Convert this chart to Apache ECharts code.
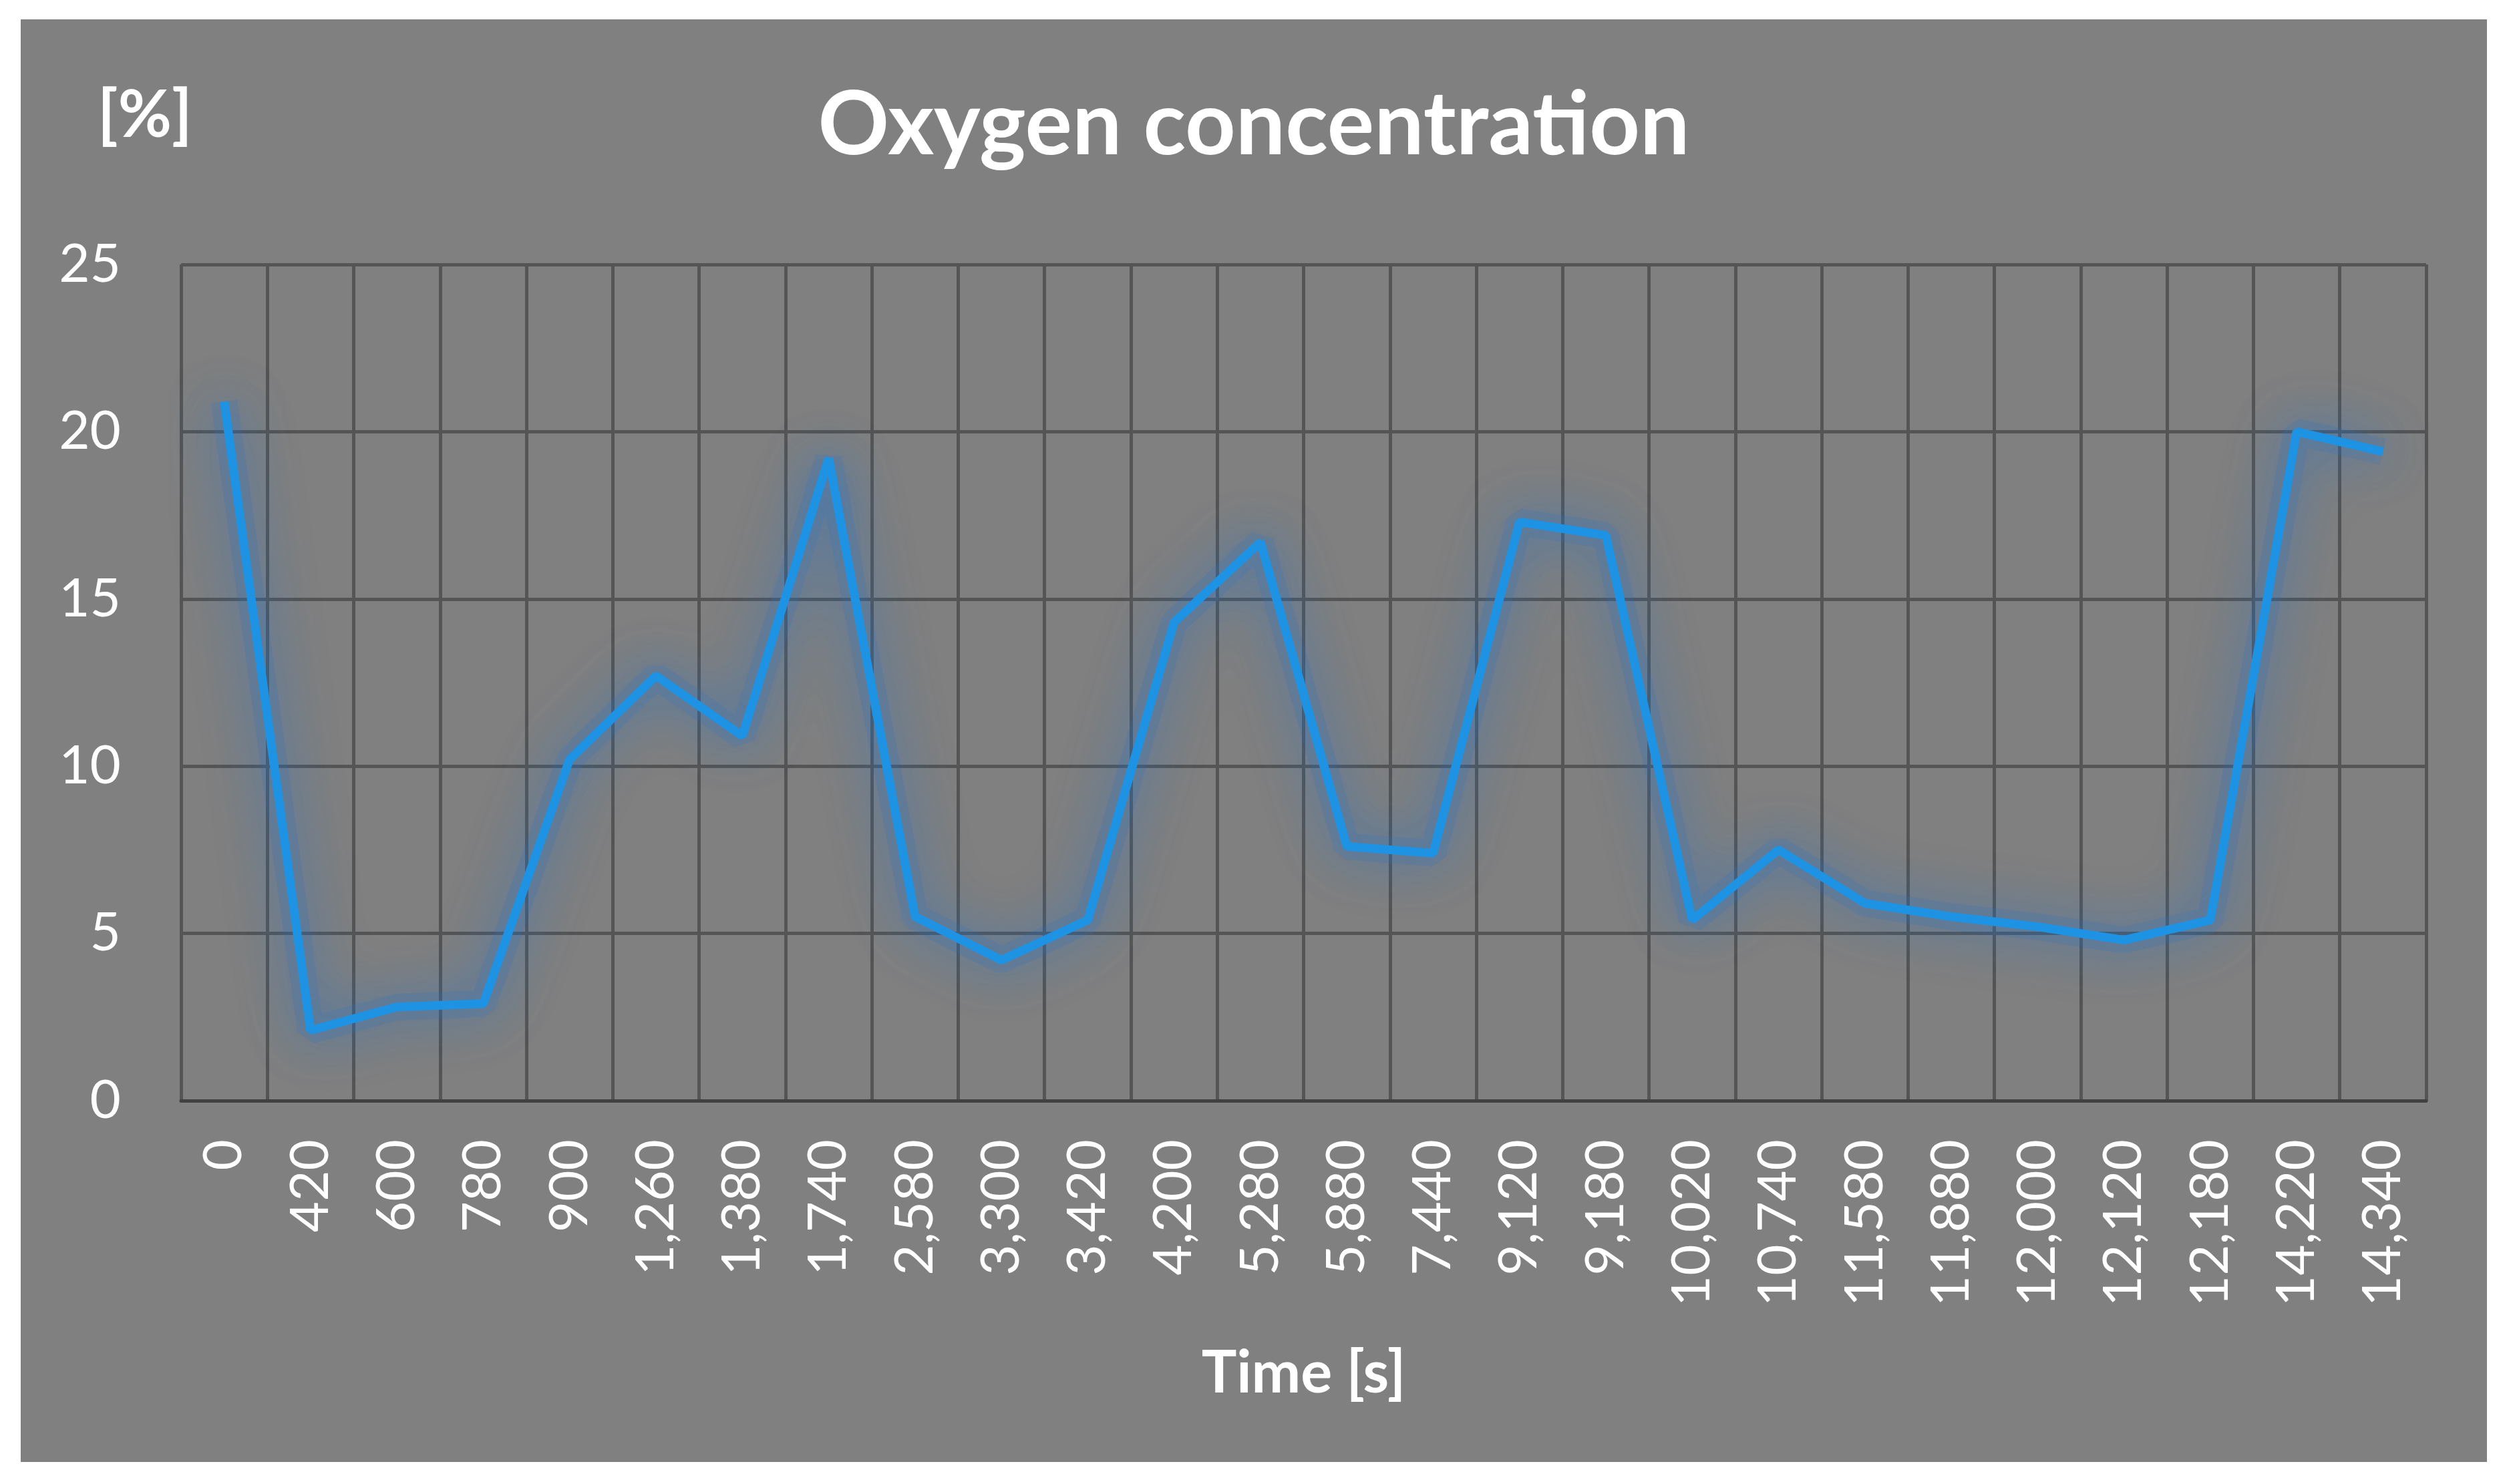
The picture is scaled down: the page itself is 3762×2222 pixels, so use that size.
<!DOCTYPE html>
<html lang="en" style="height: 100%">
<head>
  <meta charset="utf-8">
  <title>Oxygen concentration</title>
  <script type="text/javascript" src="https://fastly.jsdelivr.net/npm/echarts@6/dist/echarts.min.js"></script>
</head>
<body style="height: 100%; margin: 0; background: #ffffff">
  <div id="chart" style="position: absolute; left: 31px; top: 29px; width: 3692px; height: 2160px"></div>

  <script type="text/javascript">
    var dom = document.getElementById('chart');
    var myChart = echarts.init(dom);

    // time stamps [s]
    let times = ['0', '420', '600', '780', '900', '1,260', '1,380', '1,740', '2,580', '3,300',
      '3,420', '4,200', '5,280', '5,880', '7,440', '9,120', '9,180', '10,020', '10,740',
      '11,580', '11,880', '12,000', '12,120', '12,180', '14,220', '14,340'];

    // oxygen [%]
    let oxygen = [20.9, 2.1, 2.8, 2.9, 10.2, 12.7, 10.9, 19.2, 5.5, 4.2,
      5.4, 14.3, 16.7, 7.6, 7.4, 17.3, 16.9, 5.4, 7.5,
      5.9, 5.5, 5.2, 4.8, 5.4, 20.0, 19.4];

    let yTicks = [0, 5, 10, 15, 20, 25];

    let gridColor = '#555555';

    let option = {
      backgroundColor: '#808080',
      textStyle: { fontFamily: 'Lato' },
      title: [
        {
          text: 'Oxygen concentration',
          left: 'center',
          top: 88,
          textStyle: { color: '#fff', fontSize: 132, fontWeight: 'bold', fontFamily: 'Lato' }
        },
        {
          text: '[%]',
          left: 110,
          top: 90,
          textStyle: { color: '#fff', fontSize: 98, fontWeight: 'bold', fontFamily: 'Lato' }
        }
      ],
      grid: { left: 240, right: 91, top: 367, bottom: 541 },
      xAxis: {
        type: 'category',
        data: times,
        boundaryGap: true,
        name: 'Time [s]',
        nameLocation: 'middle',
        nameGap: 365,
        nameTextStyle: { color: '#fff', fontSize: 88, fontWeight: 'bold', fontFamily: 'Lato' },
        axisLine: { lineStyle: { color: '#404040', width: 5 } },
        axisTick: { show: false },
        axisLabel: {
          rotate: 90, interval: 0, margin: 58,
          color: '#fff', fontSize: 80, fontFamily: 'Lato'
        },
        splitLine: { show: true, interval: 0, lineStyle: { color: gridColor, width: 5 } }
      },
      yAxis: {
        type: 'value',
        min: yTicks[0],
        max: yTicks[yTicks.length - 1],
        interval: 5,
        axisLine: { show: false },
        axisTick: { show: false },
        axisLabel: { margin: 90, color: '#fff', fontSize: 80, fontFamily: 'Lato' },
        splitLine: { lineStyle: { color: gridColor, width: 5 } }
      },
      series: [
        {
          // soft glow under the line
          name: 'glow',
          type: 'line',
          data: oxygen,
          showSymbol: false,
          symbol: 'none',
          silent: true,
          z: 1,
          lineStyle: {
            color: 'rgba(40,120,205,0.16)',
            width: 40,
            shadowColor: 'rgba(30,115,205,1)',
            shadowBlur: 90
          }
        },
        {
          name: 'Oxygen',
          type: 'line',
          data: oxygen,
          showSymbol: false,
          symbol: 'none',
          z: 3,
          lineStyle: {
            color: '#1E93E4',
            width: 13,
            shadowColor: 'rgba(30,115,205,0.9)',
            shadowBlur: 70
          },
          itemStyle: { color: '#1E93E4' }
        }
      ]
    };

    myChart.setOption(option);
  </script>
</body>
</html>
